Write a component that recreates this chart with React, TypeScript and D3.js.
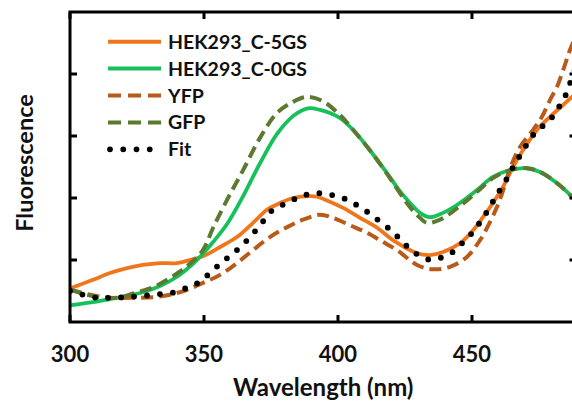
import React from 'react';
import * as d3 from 'd3';

// Wavelength (nm) / relative fluorescence
const c5gsNm = [300, 308.6, 314.9, 321.3, 327.2, 333.6, 339.9, 344.8, 349.6, 356.0, 362.3, 368.3, 373.5, 378.4, 383.2, 389.6, 392.2, 395.9, 401.9, 408.2, 414.6, 420.5, 429.5, 434.3, 439.2, 445.5, 450.4, 454.1, 457.8, 461.6, 465.3, 469.0, 474.3, 479.1, 484.0, 487.3, 488.8];
const c5gsVal = [0.54, 0.68, 0.79, 0.87, 0.92, 0.95, 0.95, 1.0, 1.06, 1.21, 1.37, 1.6, 1.81, 1.92, 2.0, 2.03, 2.02, 1.96, 1.84, 1.68, 1.52, 1.32, 1.11, 1.08, 1.13, 1.27, 1.48, 1.69, 1.92, 2.18, 2.5, 2.77, 3.1, 3.31, 3.5, 3.63, 3.68];

const c0gsNm = [300, 308.6, 314.9, 321.3, 327.2, 333.6, 339.9, 345.9, 349.6, 353.4, 358.6, 364.6, 370.9, 377.2, 383.2, 386.9, 389.6, 393.3, 397.0, 400.7, 405.6, 411.9, 418.3, 423.1, 426.9, 430.6, 434.3, 439.2, 445.5, 451.9, 457.8, 464.2, 470.5, 475.4, 481.7, 487.3, 488.8];
const c0gsVal = [0.27, 0.32, 0.37, 0.42, 0.48, 0.58, 0.73, 0.94, 1.1, 1.29, 1.58, 2.03, 2.56, 3.03, 3.32, 3.42, 3.45, 3.42, 3.37, 3.29, 3.1, 2.77, 2.4, 2.11, 1.92, 1.76, 1.69, 1.76, 1.92, 2.13, 2.34, 2.45, 2.48, 2.42, 2.24, 2.02, 1.95];

const yfpNm = [300, 307.5, 314.9, 322.4, 331.0, 337.3, 343.7, 349.6, 356.0, 362.3, 368.3, 374.6, 381.0, 386.9, 393.3, 398.1, 404.5, 410.8, 416.8, 422.0, 429.5, 435.4, 441.8, 448.1, 453.0, 456.7, 460.4, 464.6, 467.9, 472.8, 476.1, 479.1, 481.7, 484.0, 486.6, 488.8];
const yfpVal = [0.52, 0.44, 0.39, 0.39, 0.4, 0.44, 0.52, 0.63, 0.76, 0.95, 1.16, 1.37, 1.53, 1.65, 1.73, 1.68, 1.56, 1.44, 1.29, 1.16, 0.92, 0.85, 0.89, 1.05, 1.32, 1.61, 1.97, 2.52, 2.82, 3.1, 3.31, 3.58, 3.79, 4.06, 4.39, 4.61];

const gfpNm = [300, 306.3, 312.3, 318.7, 325.0, 331.0, 337.3, 343.7, 349.6, 353.4, 358.6, 364.6, 370.9, 377.2, 383.2, 388.4, 394.4, 400.7, 405.6, 411.9, 418.3, 423.1, 426.9, 430.6, 433.2, 438.1, 445.5, 451.9, 457.8, 464.2, 470.5, 475.4, 481.7, 487.3, 488.8];
const gfpVal = [0.52, 0.44, 0.39, 0.4, 0.48, 0.56, 0.71, 0.9, 1.16, 1.52, 1.97, 2.45, 2.97, 3.37, 3.55, 3.63, 3.56, 3.34, 3.1, 2.77, 2.39, 2.08, 1.85, 1.68, 1.6, 1.65, 1.87, 2.1, 2.32, 2.45, 2.48, 2.42, 2.24, 2.02, 1.95];

const fitNm = [300, 301.9, 308.2, 313.8, 320.5, 326.9, 333.6, 339.2, 344.0, 348.5, 353.4, 357.8, 362.3, 367.2, 371.6, 375.7, 381.0, 385.8, 391.4, 395.9, 400.7, 405.6, 410.8, 415.7, 420.5, 423.9, 427.6, 431.3, 435.1, 439.2, 442.9, 446.3, 449.3, 452.2, 454.9, 457.5, 459.3, 461.6, 464.2, 466.0, 468.7, 470.9, 473.5, 476.1, 479.1, 481.7, 484.0, 485.8, 487.3, 488.8];
const fitVal = [0.5, 0.48, 0.4, 0.39, 0.4, 0.42, 0.45, 0.48, 0.56, 0.65, 0.84, 1.0, 1.16, 1.37, 1.6, 1.81, 1.92, 2.02, 2.08, 2.06, 2.02, 1.92, 1.78, 1.62, 1.45, 1.3, 1.15, 1.05, 1.0, 1.05, 1.13, 1.27, 1.4, 1.56, 1.73, 1.92, 2.05, 2.21, 2.4, 2.56, 2.73, 2.9, 3.05, 3.15, 3.26, 3.42, 3.58, 3.74, 3.95, 4.1];

const seriesNames = ['HEK293_C-5GS', 'HEK293_C-0GS', 'YFP', 'GFP', 'Fit'];
const xTicks = [300, 350, 400, 450];
const yTicks = [1, 2, 3, 4];
const xTitle = 'Wavelength (nm)';
const yTitle = 'Fluorescence';

const FONT = 'Lato, "Open Sans", sans-serif';

export default function App() {
  const W = 572;
  const H = 404;
  const x = d3.scaleLinear().domain([300, 489]).range([70, 576.5]);
  const y = d3.scaleLinear().domain([0, 5]).range([322, 12]);
  const line = d3
    .line<[number, number]>()
    .x((d) => x(d[0]))
    .y((d) => y(d[1]))
    .curve(d3.curveCatmullRom.alpha(0.5));
  const zip = (a: number[], b: number[]) => a.map((v, i) => [v, b[i]] as [number, number]);

  const styles = [
    { stroke: '#F0761C', width: 3.8, dash: null as string | null, cap: 'butt' },
    { stroke: '#16C05A', width: 3.8, dash: null, cap: 'butt' },
    { stroke: '#B85A1A', width: 4, dash: '12 6', cap: 'butt' },
    { stroke: '#5B7A30', width: 4, dash: '12 6', cap: 'butt' },
    { stroke: '#000000', width: 5.8, dash: '0 13', cap: 'round' },
  ];
  const data = [
    zip(c5gsNm, c5gsVal),
    zip(c0gsNm, c0gsVal),
    zip(yfpNm, yfpVal),
    zip(gfpNm, gfpVal),
    zip(fitNm, fitVal),
  ];
  const legendDash = [null, null, '13 7', '13 7', '0 13.25'];

  const [x0, x1] = x.range();
  const [y0, y1] = y.range();
  const tickLen = 7;

  return (
    <svg
      width={W}
      height={H}
      style={{ position: 'absolute', left: 0, top: 0, background: '#fff' }}
      fontFamily={FONT}
      fontWeight={700}
    >
      <defs>
        <clipPath id="plot">
          <rect x={x0} y={y1} width={x1 - x0} height={y0 - y1} />
        </clipPath>
      </defs>
      <g clipPath="url(#plot)">
        {data.map((d, i) => (
          <path
            key={i}
            d={line(d) || ''}
            fill="none"
            stroke={styles[i].stroke}
            strokeWidth={styles[i].width}
            strokeDasharray={styles[i].dash || undefined}
            strokeLinecap={styles[i].cap as any}
            strokeLinejoin="round"
          />
        ))}
      </g>
      {/* frame */}
      <rect x={x0} y={y1} width={x1 - x0} height={y0 - y1} fill="none" stroke="#000" strokeWidth={3} />
      {xTicks.map((t) => (
        <g key={'xt' + t}>
          <line x1={x(t)} x2={x(t)} y1={y0} y2={y0 - tickLen} stroke="#000" strokeWidth={3} />
          <line x1={x(t)} x2={x(t)} y1={y1} y2={y1 + tickLen} stroke="#000" strokeWidth={3} />
          <text x={x(t)} y={362} textAnchor="middle" fontSize={22} fill="#111">
            {t}
          </text>
        </g>
      ))}
      {yTicks.map((t) => (
        <g key={'yt' + t}>
          <line x1={x0} x2={x0 + tickLen} y1={y(t)} y2={y(t)} stroke="#000" strokeWidth={3} />
          <line x1={x1} x2={x1 - tickLen} y1={y(t)} y2={y(t)} stroke="#000" strokeWidth={3} />
        </g>
      ))}
      <text x={(x0 + x1) / 2} y={396} textAnchor="middle" fontSize={24} fill="#111">
        {xTitle}
      </text>
      <text transform="translate(33,163) rotate(-90)" textAnchor="middle" fontSize={23.5} fill="#111">
        {yTitle}
      </text>
      {/* legend */}
      {seriesNames.map((name, i) => {
        const cy = 41.7 + i * 26.9;
        return (
          <g key={name}>
            <line
              x1={i === 4 ? 110 : 108}
              x2={i === 4 ? 163 : 161}
              y1={cy}
              y2={cy}
              stroke={styles[i].stroke}
              strokeWidth={i === 4 ? 5.8 : 4}
              strokeDasharray={legendDash[i] || undefined}
              strokeLinecap={styles[i].cap as any}
            />
            <text x={168} y={cy + 7} fontSize={19.5} fill="#111">
              {name}
            </text>
          </g>
        );
      })}
    </svg>
  );
}
